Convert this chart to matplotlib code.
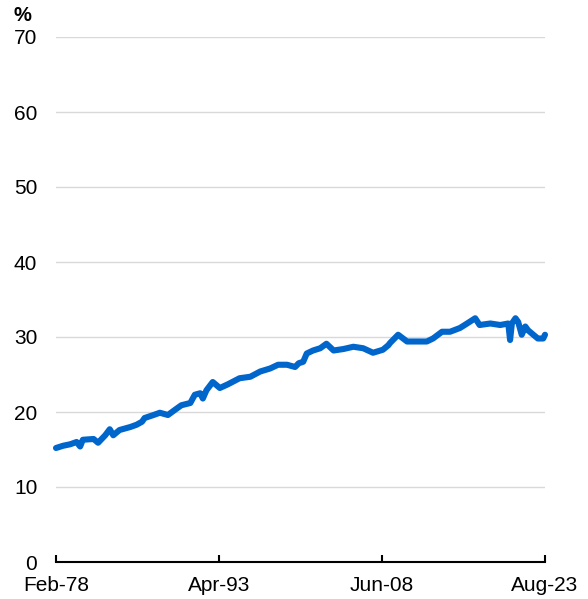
import matplotlib
matplotlib.use("Agg")
import matplotlib.pyplot as plt
import pandas as pd

plt.rcParams['font.family'] = ['Liberation Sans', 'DejaVu Sans']

# values (month, %)
dates = ["1978-02", "1978-10", "1979-06", "1980-01", "1980-05", "1980-08", "1981-08",
         "1982-01", "1982-09", "1983-02", "1983-06", "1984-01", "1985-01", "1985-08",
         "1986-02", "1986-05", "1987-03", "1987-10", "1988-07", "1989-03", "1989-10",
         "1990-08", "1991-01", "1991-07", "1991-10", "1992-02", "1992-09", "1993-05",
         "1994-02", "1995-03", "1996-03", "1997-02", "1998-01", "1998-10", "1999-08",
         "2000-05", "2000-09", "2001-02", "2001-06", "2002-01", "2002-09", "2003-04",
         "2003-12", "2004-11", "2005-10", "2006-09", "2007-08", "2008-07", "2009-01",
         "2009-03", "2009-12", "2010-10", "2011-09", "2012-08", "2013-03", "2014-01",
         "2014-10", "2015-09", "2016-05", "2017-02", "2017-07", "2018-07", "2019-06",
         "2020-03", "2020-05", "2020-07", "2020-11", "2021-02", "2021-06", "2021-10",
         "2022-01", "2022-07", "2022-12", "2023-06", "2023-08"]
values = [15.2, 15.5, 15.7, 16.0, 15.4, 16.3, 16.4,
          15.9, 16.9, 17.7, 16.9, 17.6, 18.0, 18.3,
          18.7, 19.2, 19.6, 19.9, 19.6, 20.3, 20.9,
          21.2, 22.3, 22.5, 21.8, 22.9, 24.0, 23.2,
          23.7, 24.5, 24.7, 25.4, 25.8, 26.3, 26.3,
          26.0, 26.5, 26.7, 27.8, 28.2, 28.5, 29.1,
          28.2, 28.4, 28.7, 28.5, 27.9, 28.3, 28.9,
          29.2, 30.3, 29.4, 29.4, 29.4, 29.8, 30.7,
          30.7, 31.2, 31.8, 32.5, 31.6, 31.8, 31.6,
          31.8, 29.6, 31.8, 32.5, 32.0, 30.3, 31.4,
          30.9, 30.3, 29.8, 29.8, 30.3]

tick_dates = ["1978-02", "1993-04", "2008-06", "2023-08"]
tick_labels = ["Feb-78", "Apr-93", "Jun-08", "Aug-23"]
y_ticks = [0, 10, 20, 30, 40, 50, 60, 70]

x = pd.to_datetime(dates)
xt = pd.to_datetime(tick_dates)

fig = plt.figure(figsize=(5.88, 5.99), dpi=100)
ax = fig.add_axes([56/588, 1-562/599, 489/588, 525/599])

ax.plot(x, values, color="#0066CC", linewidth=4.4,
        solid_joinstyle="round", solid_capstyle="round", clip_on=False)

ax.set_xlim(xt[0], xt[-1])
ax.set_ylim(0, 70)
ax.set_yticks(y_ticks)
ax.set_xticks(xt)
ax.set_xticklabels(tick_labels)

ax.grid(axis="y", color="#D9D9D9", linewidth=1)
ax.set_axisbelow(True)
for s in ["top", "right", "left"]:
    ax.spines[s].set_visible(False)
ax.spines["bottom"].set_linewidth(1.5)
ax.spines["bottom"].set_zorder(5)

ax.tick_params(axis="y", length=0, pad=13.5, labelsize=15)
ax.tick_params(axis="x", direction="in", length=5, width=1.5, pad=10, labelsize=15)

fig.text(14/588, 1-6/599, "%", ha="left", va="top", fontsize=14.5, fontweight="bold")

fig.savefig("out.png", dpi=100)
